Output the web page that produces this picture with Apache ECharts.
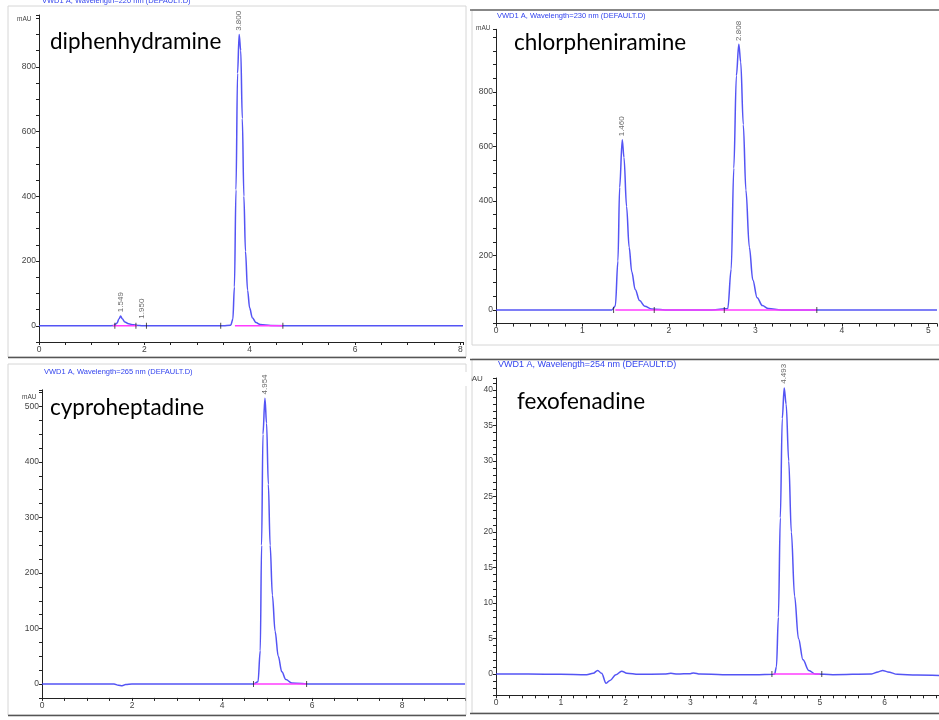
<!DOCTYPE html>
<html><head><meta charset="utf-8">
<script src="https://cdn.jsdelivr.net/npm/echarts@6/dist/echarts.min.js"></script>
<style>html,body{margin:0;padding:0;background:#fff}#c{width:939px;height:720px}</style>
</head><body><div id="c"></div><script>
// ---------- DATA ----------
// Panel 1: diphenhydramine (time min, mAU)
const dphT = [0, 1.30, 1.42, 1.48, 1.52, 1.549, 1.58, 1.63, 1.70, 1.80, 1.90, 2.00, 2.50, 3.00, 3.50, 3.64, 3.68, 3.71, 3.74, 3.77, 3.80, 3.83, 3.86, 3.89, 3.92, 3.96, 4.00, 4.05, 4.12, 4.20, 4.40, 5.00, 6.00, 7.00, 8.05];
const dphV = [0, 0, 1, 8, 22, 30, 22, 12, 6, 3, 1, 0, 0, 0, 0, 2, 20, 120, 420, 780, 900, 850, 640, 400, 230, 110, 55, 25, 10, 4, 1, 0, 0, 0, 0];
const dphPeakText = ['1.549', '1.950', '3.800'];
const dphPeakT = [1.549, 1.95, 3.80];
const dphPeakV = [36, 16, 905];
const dphBaseSegs = [[1.40, 1.86], [3.72, 4.63]];
const dphMarks = [1.44, 1.84, 2.04, 3.45, 4.63];

// Panel 2: chlorpheniramine
const chlT = [0, 1.00, 1.34, 1.38, 1.41, 1.43, 1.46, 1.48, 1.51, 1.54, 1.57, 1.61, 1.66, 1.72, 1.80, 2.00, 2.50, 2.68, 2.72, 2.75, 2.78, 2.808, 2.83, 2.86, 2.89, 2.93, 2.97, 3.02, 3.08, 3.15, 3.30, 4.00, 5.10];
const chlV = [0, 0, 0, 15, 180, 450, 625, 560, 380, 230, 140, 75, 35, 14, 4, 0, 0, 5, 150, 520, 860, 975, 910, 680, 440, 230, 110, 45, 16, 5, 0, 0, 0];
const chlPeakText = ['1.460', '2.808'];
const chlPeakT = [1.46, 2.808];
const chlPeakV = [630, 980];
const chlBaseSegs = [[1.38, 3.71]];
const chlMarks = [1.36, 1.83, 2.64, 3.71];

// Panel 3: cyproheptadine
const cypT = [0, 1.40, 1.60, 1.70, 1.78, 1.86, 2.00, 3.00, 4.00, 4.70, 4.80, 4.85, 4.88, 4.91, 4.954, 4.99, 5.03, 5.07, 5.12, 5.18, 5.25, 5.33, 5.42, 5.55, 6.00, 8.00, 9.40];
const cypV = [0, 0, 0, -2, -3, -1, 0, 0, 0, 0, 4, 60, 250, 450, 515, 470, 360, 250, 160, 95, 50, 22, 8, 2, 0, 0, 0];
const cypPeakText = ['4.954'];
const cypPeakT = [4.954];
const cypPeakV = [518];
const cypBaseSegs = [[4.70, 5.88]];
const cypMarks = [4.70, 5.88];

// Panel 4: fexofenadine
const fexT = [0, 0.50, 1.00, 1.40, 1.50, 1.57, 1.63, 1.70, 1.76, 1.85, 1.94, 2.02, 2.20, 2.60, 2.70, 2.80, 3.00, 3.05, 3.15, 3.50, 4.00, 4.30, 4.33, 4.36, 4.39, 4.42, 4.45, 4.48, 4.52, 4.56, 4.61, 4.67, 4.74, 4.83, 4.93, 5.20, 5.80, 5.90, 5.97, 6.05, 6.20, 6.50, 6.85];
const fexV = [0, 0, -0.05, -0.1, 0.1, 0.5, 0.1, -1.3, -0.9, -0.1, 0.4, 0.1, -0.05, 0, 0.1, 0, 0.05, 0.15, 0, -0.1, -0.1, -0.05, 1, 8, 22, 36, 40.3, 38, 30, 20, 11, 5, 2, 0.5, 0, -0.1, 0, 0.3, 0.5, 0.3, -0.05, -0.15, -0.2];
const fexPeakText = ['4.493'];
const fexPeakT = [4.45];
const fexPeakV = [40.6];
const fexBaseSegs = [[4.28, 5.00]];
const fexMarks = [4.26, 5.03];

// Tick labels
const x1Labels = [0, 2, 4, 6, 8];
const y1Labels = [0, 200, 400, 600, 800];
const x2Labels = [0, 1, 2, 3, 4, 5];
const y2Labels = [0, 200, 400, 600, 800];
const x3Labels = [0, 2, 4, 6, 8];
const y3Labels = [0, 100, 200, 300, 400, 500];
const x4Labels = [0, 1, 2, 3, 4, 5, 6];
const y4Labels = [0, 5, 10, 15, 20, 25, 30, 35, 40];

const names = ['diphenhydramine', 'chlorpheniramine', 'cyproheptadine', 'fexofenadine'];
const headers = ['VWD1 A, Wavelength=220 nm (DEFAULT.D)', 'VWD1 A, Wavelength=230 nm (DEFAULT.D)', 'VWD1 A, Wavelength=265 nm (DEFAULT.D)', 'VWD1 A, Wavelength=254 nm (DEFAULT.D)'];

// ---------- BUILD ----------
const TRACE = '#3c3cf2';
const PINK = '#ff3cff';
const FONT = 'Liberation Sans, Arial, sans-serif';
function zip(a, b) { return a.map((v, i) => [v, b[i]]); }

function xAx(gi, max, step, labels) {
  return {
    type: 'value', gridIndex: gi, min: 0, max: max, interval: step,
    axisLine: { show: true, onZero: false, lineStyle: { color: '#222', width: 1 } },
    axisTick: { show: true, length: 3, lineStyle: { color: '#222' } },
    axisLabel: { customValues: labels, fontSize: 8.5, color: '#444', margin: 3, fontFamily: FONT },
    splitLine: { show: false }
  };
}
function yAx(gi, min, max, step, labels) {
  return {
    type: 'value', gridIndex: gi, min: min, max: max, interval: step,
    axisLine: { show: true, onZero: false, lineStyle: { color: '#222', width: 1 } },
    axisTick: { show: true, length: 3, lineStyle: { color: '#222' } },
    axisLabel: { customValues: labels, fontSize: 8.5, color: '#444', margin: 3, fontFamily: FONT },
    splitLine: { show: false }
  };
}

const panels = [
  { t: dphT, v: dphV, pt: dphPeakText, px: dphPeakT, py: dphPeakV, segs: dphBaseSegs, marks: dphMarks },
  { t: chlT, v: chlV, pt: chlPeakText, px: chlPeakT, py: chlPeakV, segs: chlBaseSegs, marks: chlMarks },
  { t: cypT, v: cypV, pt: cypPeakText, px: cypPeakT, py: cypPeakV, segs: cypBaseSegs, marks: cypMarks },
  { t: fexT, v: fexV, pt: fexPeakText, px: fexPeakT, py: fexPeakV, segs: fexBaseSegs, marks: fexMarks }
];

const series = [];
panels.forEach((p, i) => {
  series.push({
    type: 'line', xAxisIndex: i, yAxisIndex: i, data: zip(p.t, p.v),
    showSymbol: false, smooth: 0.35, smoothMonotone: 'x',
    lineStyle: { color: TRACE, width: 1.5, opacity: 0.88 }, z: 3, silent: true
  });
  p.segs.forEach(s => {
    series.push({
      type: 'line', xAxisIndex: i, yAxisIndex: i, data: [[s[0], 0], [s[1], 0]],
      showSymbol: false, lineStyle: { color: PINK, width: 1.4 }, z: 4, silent: true
    });
  });
  series.push({
    type: 'scatter', xAxisIndex: i, yAxisIndex: i, data: p.marks.map(m => [m, 0]),
    symbol: 'rect', symbolSize: [1, 6], itemStyle: { color: '#222' }, z: 5, silent: true
  });
  series.push({
    type: 'scatter', xAxisIndex: i, yAxisIndex: i,
    data: p.px.map((x, k) => [x, p.py[k], p.pt[k]]),
    symbolSize: 0, z: 6, silent: true,
    label: {
      show: true, position: 'top', distance: 2, rotate: 90, align: 'left', verticalAlign: 'middle',
      formatter: d => d.value[2], fontSize: 8, color: '#444', fontFamily: FONT
    }
  });
});

const txtStyle = (x, y, text, size, color, family) => ({
  type: 'text', left: x, top: y, z: 20, silent: true,
  style: { text: text, fontSize: size, fill: color, fontFamily: family || FONT }
});

const graphic = [
  // panel frames
  { type: 'rect', shape: { x: 8, y: 6, width: 458, height: 351 }, style: { fill: 'none', stroke: '#d6d6d6', lineWidth: 1 }, z: 1, silent: true },
  { type: 'line', shape: { x1: 8, y1: 357.5, x2: 466, y2: 357.5 }, style: { stroke: '#555', lineWidth: 1.5 }, z: 1, silent: true },
  { type: 'rect', shape: { x: 472, y: 10, width: 470, height: 335 }, style: { fill: 'none', stroke: '#d6d6d6', lineWidth: 1 }, z: 1, silent: true },
  { type: 'line', shape: { x1: 470, y1: 10, x2: 939, y2: 10 }, style: { stroke: '#666', lineWidth: 1.5 }, z: 1, silent: true },
  { type: 'rect', shape: { x: 8, y: 364, width: 458, height: 351 }, style: { fill: 'none', stroke: '#d6d6d6', lineWidth: 1 }, z: 1, silent: true },
  { type: 'line', shape: { x1: 8, y1: 715.5, x2: 466, y2: 715.5 }, style: { stroke: '#555', lineWidth: 1.5 }, z: 1, silent: true },
  { type: 'rect', shape: { x: 472, y: 359, width: 470, height: 354 }, style: { fill: 'none', stroke: '#d6d6d6', lineWidth: 1 }, z: 1, silent: true },
  { type: 'line', shape: { x1: 470, y1: 359.5, x2: 939, y2: 359.5 }, style: { stroke: '#555', lineWidth: 1.5 }, z: 1, silent: true },
  { type: 'line', shape: { x1: 470, y1: 713.5, x2: 939, y2: 713.5 }, style: { stroke: '#555', lineWidth: 1.5 }, z: 1, silent: true },
  // headers
  txtStyle(42, -3, headers[0], 7.5, '#3344ee'),
  txtStyle(497, 12, headers[1], 7.5, '#3344ee'),
  txtStyle(44, 368, headers[2], 7.5, '#3344ee'),
  txtStyle(498, 360, headers[3], 9, '#3344ee'),
  // mAU
  txtStyle(17, 16, 'mAU', 6.5, '#444'),
  txtStyle(476, 25, 'mAU', 6.5, '#444'),
  txtStyle(22, 394, 'mAU', 6.5, '#444'),
  txtStyle(465, 375, 'mAU', 8, '#444'),
  { type: 'rect', shape: { x: 462, y: 372, width: 9, height: 14 }, style: { fill: '#fff' }, z: 21, silent: true },
  // compound names
  txtStyle(50, 30, names[0], 22.5, '#000', 'Lato, sans-serif'),
  txtStyle(514, 31, names[1], 22.5, '#000', 'Lato, sans-serif'),
  txtStyle(50, 396, names[2], 22.5, '#000', 'Lato, sans-serif'),
  txtStyle(517, 390, names[3], 22.5, '#000', 'Lato, sans-serif')
];

const option = {
  animation: false,
  backgroundColor: '#fff',
  grid: [
    { left: 39, right: 476, top: 15, bottom: 378 },
    { left: 496, right: 2, top: 29.3, bottom: 396.4 },
    { left: 42, right: 474, top: 389.8, bottom: 22.1 },
    { left: 496, right: 0, top: 378, bottom: 24.7 }
  ],
  xAxis: [
    xAx(0, 8.05, 0.5, x1Labels),
    xAx(1, 5.1, 0.2, x2Labels),
    xAx(2, 9.4, 0.5, x3Labels),
    xAx(3, 6.84, 0.2, x4Labels)
  ],
  yAxis: [
    yAx(0, -50, 960, 50, y1Labels),
    yAx(1, -50, 1030, 50, y2Labels),
    yAx(2, -25, 530, 25, y3Labels),
    yAx(3, -3, 41.7, 1, y4Labels)
  ],
  series: series,
  graphic: graphic
};

const chart = echarts.init(document.getElementById('c'), null, { renderer: 'canvas' });
chart.setOption(option);
</script></body></html>
